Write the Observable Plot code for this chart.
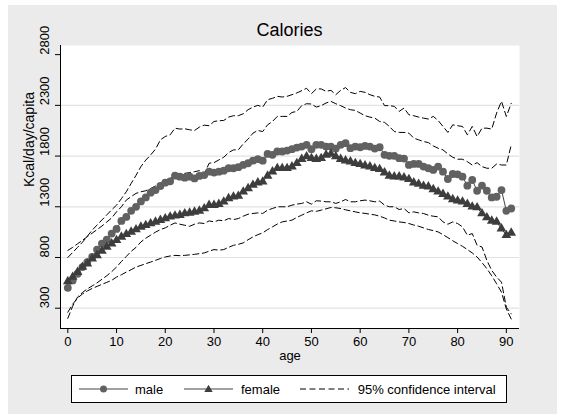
<!DOCTYPE html>
<html><head><meta charset="utf-8">
<script src="https://cdn.jsdelivr.net/npm/d3@7"></script>
<script src="https://cdn.jsdelivr.net/npm/@observablehq/plot@0.6"></script>
<style>
body{margin:0;background:#fff;font-family:"Liberation Sans",Arial,sans-serif;}
#wrap{position:relative;width:565px;height:420px;overflow:hidden;background:#fff;}
#panel{position:absolute;left:8px;top:5px;width:549px;height:409px;background:#ebebeb;}
#title{position:absolute;left:60px;width:459px;top:19px;text-align:center;font-size:18px;line-height:22px;color:#000;}
#chart{position:absolute;left:0;top:0;}
#legend{position:absolute;left:71px;top:375px;width:434px;height:26px;background:#fff;border:1px solid #000;font-size:13px;color:#000;}
.item{position:absolute;top:0;height:26px;display:flex;align-items:center;}
.item svg{display:block;}
</style></head>
<body>
<div id="wrap">
  <div id="panel"></div>
  <div id="chart"></div>
  <div id="title">Calories</div>
  <div id="legend"></div>
</div>
<script>
const titleText = "Calories";
const xLabel = "age";
const yLabel = "Kcal/day/capita";
const xTicks = [0, 10, 20, 30, 40, 50, 60, 70, 80, 90];
const yTicks = [300, 800, 1300, 1800, 2300, 2800];
const gridTicks = [300, 800, 1300, 1800, 2300];
const legendLabels = ["male", "female", "95% confidence interval"];

const male = [501,574,640,706,755,805,878,937,977,1036,
1082,1161,1200,1260,1300,1353,1392,1439,1465,1505,
1538,1551,1607,1597,1587,1597,1580,1604,1613,1646,
1637,1646,1656,1680,1680,1690,1713,1729,1755,1769,
1755,1821,1812,1845,1845,1854,1868,1884,1894,1911,
1868,1911,1911,1894,1894,1874,1911,1927,1878,1894,
1887,1900,1894,1874,1887,1812,1802,1802,1779,1775,
1713,1722,1722,1696,1680,1663,1696,1646,1574,1623,
1620,1597,1508,1564,1458,1508,1458,1392,1399,1465,
1260,1283];

const female = [564,607,656,706,739,788,821,864,904,937,
970,1003,1029,1052,1076,1102,1118,1135,1151,1168,
1184,1201,1211,1217,1234,1240,1250,1260,1283,1316,
1316,1326,1349,1382,1399,1406,1448,1481,1514,1538,
1547,1604,1646,1680,1680,1680,1696,1729,1769,1795,
1778,1769,1778,1812,1821,1795,1769,1755,1745,1729,
1719,1706,1696,1680,1670,1637,1604,1597,1597,1587,
1571,1538,1524,1505,1498,1472,1448,1425,1399,1373,
1359,1349,1326,1300,1293,1234,1194,1161,1151,1085,
1019,1043];

const maleUpper = [800,850,900,950,1010,1069,1120,1170,1220,1270,
1316,1380,1448,1530,1610,1696,1760,1811,1868,1960,
1993,2009,2075,2066,2069,2059,2052,2085,2105,2099,
2141,2148,2151,2184,2198,2198,2217,2257,2283,2300,
2283,2356,2369,2389,2382,2389,2405,2422,2445,2468,
2415,2462,2462,2438,2448,2405,2448,2475,2428,2415,
2438,2428,2405,2389,2382,2297,2297,2290,2240,2273,
2207,2198,2184,2174,2165,2191,2151,2092,2033,2108,
2099,2092,2009,2092,1993,2075,2075,2066,2224,2340,
2190,2320];

const maleLower = [200,320,410,455,490,520,550,585,620,660,
706,760,810,860,900,953,990,1020,1050,1075,
1092,1118,1141,1128,1118,1108,1128,1141,1135,1161,
1151,1168,1161,1184,1174,1184,1207,1227,1234,1240,
1234,1267,1283,1300,1300,1300,1316,1326,1333,1349,
1326,1359,1356,1349,1349,1333,1349,1372,1349,1349,
1359,1366,1359,1349,1356,1316,1300,1300,1273,1283,
1240,1250,1240,1234,1217,1207,1201,1151,1128,1151,
1135,1102,1019,1036,920,904,772,673,607,557,
310,244];

const femaleUpper = [870,900,935,970,1005,1040,1075,1110,1150,1190,
1250,1300,1366,1400,1432,1448,1458,1481,1505,1531,
1547,1580,1604,1613,1630,1637,1646,1656,1623,1729,
1735,1762,1788,1835,1861,1861,1920,1967,2026,2052,
2042,2108,2141,2191,2191,2191,2230,2240,2297,2316,
2313,2283,2297,2323,2339,2316,2297,2273,2257,2250,
2224,2198,2184,2174,2141,2132,2092,2042,2033,2033,
2026,1977,1960,1943,1933,1900,1877,1861,1821,1788,
1769,1769,1745,1712,1735,1696,1680,1680,1722,1712,
1712,1910];

const femaleLower = [260,340,400,440,470,495,515,535,555,575,
607,630,656,680,706,722,739,755,772,790,
805,815,821,818,821,826,831,838,845,862,
878,872,878,900,920,930,944,975,1003,1025,
1043,1075,1102,1130,1151,1160,1168,1195,1217,1240,
1260,1255,1267,1280,1293,1290,1283,1270,1260,1250,
1240,1235,1227,1220,1207,1190,1168,1160,1151,1145,
1135,1120,1108,1092,1076,1065,1052,1025,996,965,
937,910,878,845,805,750,690,620,541,458,
293,194];

const ages = male.map((_, i) => i);
const rows = ages.map((a, i) => ({
  age: a, male: male[i], female: female[i],
  maleUpper: maleUpper[i], maleLower: maleLower[i],
  femaleUpper: femaleUpper[i], femaleLower: femaleLower[i]
}));

const xDomain = [-1.5, 92.7];
const yDomain = [100, 2890];
const dash = "6,3.5";
const maleR = 3.9, femaleR = 3.6;

const ciLine = (key) => Plot.line(rows, {x: "age", y: key, stroke: "#000", strokeWidth: 1, strokeDasharray: dash});

const chart = Plot.plot({
  width: 565,
  height: 365,
  marginLeft: 60,
  marginRight: 46,
  marginTop: 45,
  marginBottom: 37,
  x: {domain: xDomain, label: null},
  y: {domain: yDomain, label: null},
  style: {background: "transparent", fontFamily: "'Liberation Sans', Arial, sans-serif", fontSize: "13px", color: "#000", overflow: "visible"},
  marks: [
    Plot.frame({fill: "white"}),
    Plot.ruleY(gridTicks, {stroke: "#e2e2e2", strokeWidth: 1.2}),
    ciLine("maleUpper"),
    ciLine("femaleUpper"),
    ciLine("maleLower"),
    ciLine("femaleLower"),
    Plot.line(rows, {x: "age", y: "male", stroke: "#444", strokeWidth: 1}),
    Plot.dot(rows, {x: "age", y: "male", r: maleR, fill: "#616161"}),
    Plot.line(rows, {x: "age", y: "female", stroke: "#333", strokeWidth: 1}),
    Plot.dot(rows, {x: "age", y: "female", r: femaleR, symbol: "triangle", fill: "#3d3d3d"}),
    Plot.ruleX([xDomain[0]], {stroke: "#000", strokeWidth: 1}),
    Plot.ruleY([yDomain[0]], {stroke: "#000", strokeWidth: 1}),
    Plot.axisX({ticks: xTicks, tickSize: 5, tickPadding: 3, fontSize: 13, label: null}),
    Plot.axisY({ticks: yTicks, tickSize: 5, tickFormat: () => "", label: null}),
    Plot.text(yTicks, {y: d => d, text: d => String(d), frameAnchor: "left", dx: -16, rotate: -90, fontSize: 13, fill: "#000"}),
    Plot.text([yLabel], {frameAnchor: "left", dx: -31, rotate: -90, fontSize: 14, fill: "#000"}),
    Plot.text([xLabel], {frameAnchor: "bottom", dy: 31, fontSize: 13, fill: "#000"})
  ]
});
document.getElementById("chart").appendChild(chart);
document.getElementById("title").textContent = titleText;

// legend
const ns = "http://www.w3.org/2000/svg";
function swatch(kind) {
  const s = document.createElementNS(ns, "svg");
  s.setAttribute("width", 49); s.setAttribute("height", 12);
  const l = document.createElementNS(ns, "line");
  l.setAttribute("x1", 0); l.setAttribute("x2", 49); l.setAttribute("y1", 6); l.setAttribute("y2", 6);
  l.setAttribute("stroke", kind === "ci" ? "#000" : "#444");
  l.setAttribute("stroke-width", 1);
  if (kind === "ci") l.setAttribute("stroke-dasharray", dash);
  s.appendChild(l);
  if (kind === "male") {
    const c = document.createElementNS(ns, "circle");
    c.setAttribute("cx", 24.5); c.setAttribute("cy", 6); c.setAttribute("r", 3.5); c.setAttribute("fill", "#616161");
    s.appendChild(c);
  } else if (kind === "female") {
    const p = document.createElementNS(ns, "path");
    p.setAttribute("d", d3.symbol(d3.symbolTriangle, Math.PI * 3.1 * 3.1)());
    p.setAttribute("transform", "translate(24.5,6.5)");
    p.setAttribute("fill", "#3d3d3d");
    s.appendChild(p);
  }
  return s;
}
const legend = document.getElementById("legend");
const items = [
  {kind: "male", sw: 6.7, tx: 63},
  {kind: "female", sw: 111.7, tx: 169},
  {kind: "ci", sw: 228, tx: 285.7}
];
items.forEach((it, i) => {
  const a = document.createElement("div"); a.className = "item"; a.style.left = it.sw + "px";
  a.appendChild(swatch(it.kind)); legend.appendChild(a);
  const b = document.createElement("div"); b.className = "item"; b.style.left = it.tx + "px";
  b.textContent = legendLabels[i]; legend.appendChild(b);
});
</script>
</body></html>
